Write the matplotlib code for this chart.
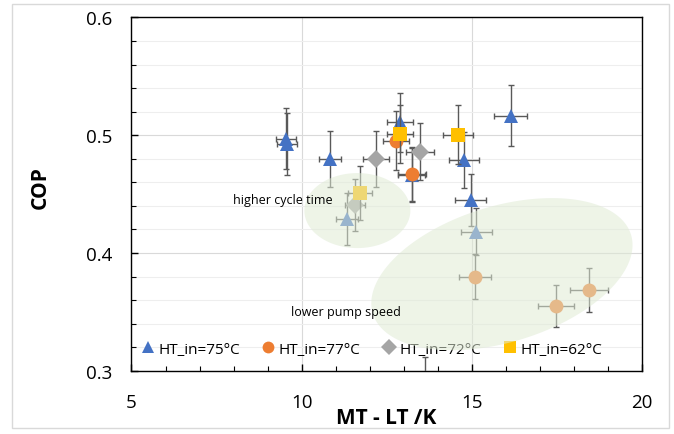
import numpy as np
import matplotlib
matplotlib.use('Agg')
import matplotlib.pyplot as plt
from matplotlib.lines import Line2D
from matplotlib.patches import Polygon, Rectangle
from matplotlib.ticker import MultipleLocator, FormatStrFormatter

plt.rcParams['font.family'] = ['Open Sans', 'DejaVu Sans']

# ============================
# DATA
# ============================

# HT_in = 75 °C  (triangles)
t75_x = [9.54, 9.57, 10.83, 12.89, 16.15, 14.77, 14.97, 13.24, 11.34, 15.14]
t75_y = [0.497, 0.4925, 0.480, 0.511, 0.5165, 0.479, 0.445, 0.466, 0.429, 0.418]
t75_xerr = [0.29, 0.29, 0.33, 0.39, 0.48, 0.44, 0.45, 0.40, 0.33, 0.46]
t75_yerr = [0.026, 0.026, 0.024, 0.025, 0.026, 0.024, 0.022, 0.023, 0.022, 0.020]

# HT_in = 77 °C  (circles)
c77_x = [12.77, 13.25, 15.11, 17.47, 18.44, 13.62]
c77_y = [0.4953, 0.4668, 0.3798, 0.3551, 0.3685, 0.288]
c77_xerr = [0.38, 0.41, 0.47, 0.53, 0.56, 0.40]
c77_yerr = [0.025, 0.023, 0.019, 0.018, 0.0185, 0.024]

# HT_in = 72 °C  (diamonds)
d72_x = [12.18, 13.48, 11.57]
d72_y = [0.4798, 0.486, 0.4407]
d72_xerr = [0.38, 0.40, 0.30]
d72_yerr = [0.024, 0.024, 0.022]

# HT_in = 62 °C  (squares)
s62_x = [12.89, 14.60, 11.71]
s62_y = [0.501, 0.5004, 0.4509]
s62_xerr = [0.39, 0.44, 0.35]
s62_yerr = [0.025, 0.025, 0.0227]

series = [
    ("HT_in=75°C", t75_x, t75_y, t75_xerr, t75_yerr, '^', '#4472C4', 10.5),
    ("HT_in=77°C", c77_x, c77_y, c77_xerr, c77_yerr, 'o', '#ED7D31', 10),
    ("HT_in=72°C", d72_x, d72_y, d72_xerr, d72_yerr, 'D', '#A5A5A5', 9),
    ("HT_in=62°C", s62_x, s62_y, s62_xerr, s62_yerr, 's', '#FFC000', 10),
]

# ============================
# FIGURE
# ============================

fig = plt.figure(figsize=(6.74, 4.35), dpi=100)
ax = fig.add_axes([0.1951, 0.1455, 0.757, 0.812])

# chart area border
fig.patches.append(Rectangle((0.0178, 0.0138), 0.9748, 0.9747, transform=fig.transFigure,
                             fill=False, edgecolor='#D9D9D9', linewidth=1.0))

handles = []
for i, (lab, x, y, xe, ye, mk, col, ms) in enumerate(series):
    ax.errorbar(x, y, xerr=xe, yerr=ye, fmt='none', ecolor='#595959',
                elinewidth=1.0, capsize=2, capthick=1.0, zorder=3 + i * 0.1)
    ax.plot(x, y, linestyle='none', marker=mk, markersize=ms, color=col,
            markeredgewidth=0, zorder=3.05 + i * 0.1)
    handles.append(Line2D([], [], linestyle='none', marker=mk, markersize=ms * 0.85,
                          color=col, markeredgewidth=0, label=lab))

ax.set_xlim(5, 20)
ax.set_ylim(0.3, 0.6)
ax.xaxis.set_major_locator(MultipleLocator(5))
ax.xaxis.set_minor_locator(MultipleLocator(1))
ax.yaxis.set_major_locator(MultipleLocator(0.1))
ax.yaxis.set_minor_locator(MultipleLocator(0.02))
ax.yaxis.set_major_formatter(FormatStrFormatter('%.1f'))

ax.grid(True, which='major', color='#D9D9D9', linewidth=0.8)
ax.grid(True, which='minor', axis='y', color='#EEEEEE', linewidth=0.8)
ax.set_axisbelow(True)

ax.tick_params(which='major', direction='in', length=5, width=1, labelsize=13.5, pad=14)
ax.tick_params(axis='x', which='major', pad=16)
ax.tick_params(which='minor', direction='in', length=3.5, width=0.8)
for s in ax.spines.values():
    s.set_color('black')
    s.set_linewidth(1.0)

ax.set_xlabel("MT - LT /K", fontsize=15, fontweight='bold')
ax.set_ylabel("COP", fontsize=15, fontweight='bold')
ax.xaxis.set_label_coords(0.5, -0.103)
ax.yaxis.set_label_coords(-0.158, 0.52)

leg = ax.legend(handles=handles, loc='center', bbox_to_anchor=(0.471, 0.061), ncol=4,
                frameon=False, fontsize=11, handlelength=0.8, handletextpad=0.3,
                columnspacing=1.45, borderaxespad=0)

# shaded regions (drawn on top, semi-transparent, as in the original)
px_x = ax.get_position().width * fig.get_figwidth() * fig.dpi / 15.0
px_y = ax.get_position().height * fig.get_figheight() * fig.dpi / 0.3


def region(cx, cy, a, b, ang):
    t = np.linspace(0, 2 * np.pi, 200)
    th = np.deg2rad(ang)
    ex = a * np.cos(t) * np.cos(th) - b * np.sin(t) * np.sin(th)
    ey = a * np.cos(t) * np.sin(th) + b * np.sin(t) * np.cos(th)
    pts = np.column_stack([cx + ex / px_x, cy + ey / px_y])
    ax.add_patch(Polygon(pts, closed=True, facecolor=(224 / 255, 235 / 255, 213 / 255),
                         edgecolor='none', alpha=0.55, zorder=10))


region(11.64, 0.436, 53, 37.5, 0)
region(15.89, 0.382, 135, 68, 17)

ax.text(9.44, 0.4452, "higher cycle time", fontsize=9, ha='center', va='center', zorder=11)
ax.text(11.29, 0.350, "lower pump speed", fontsize=9, ha='center', va='center', zorder=11)

fig.savefig("out.png", dpi=100)
